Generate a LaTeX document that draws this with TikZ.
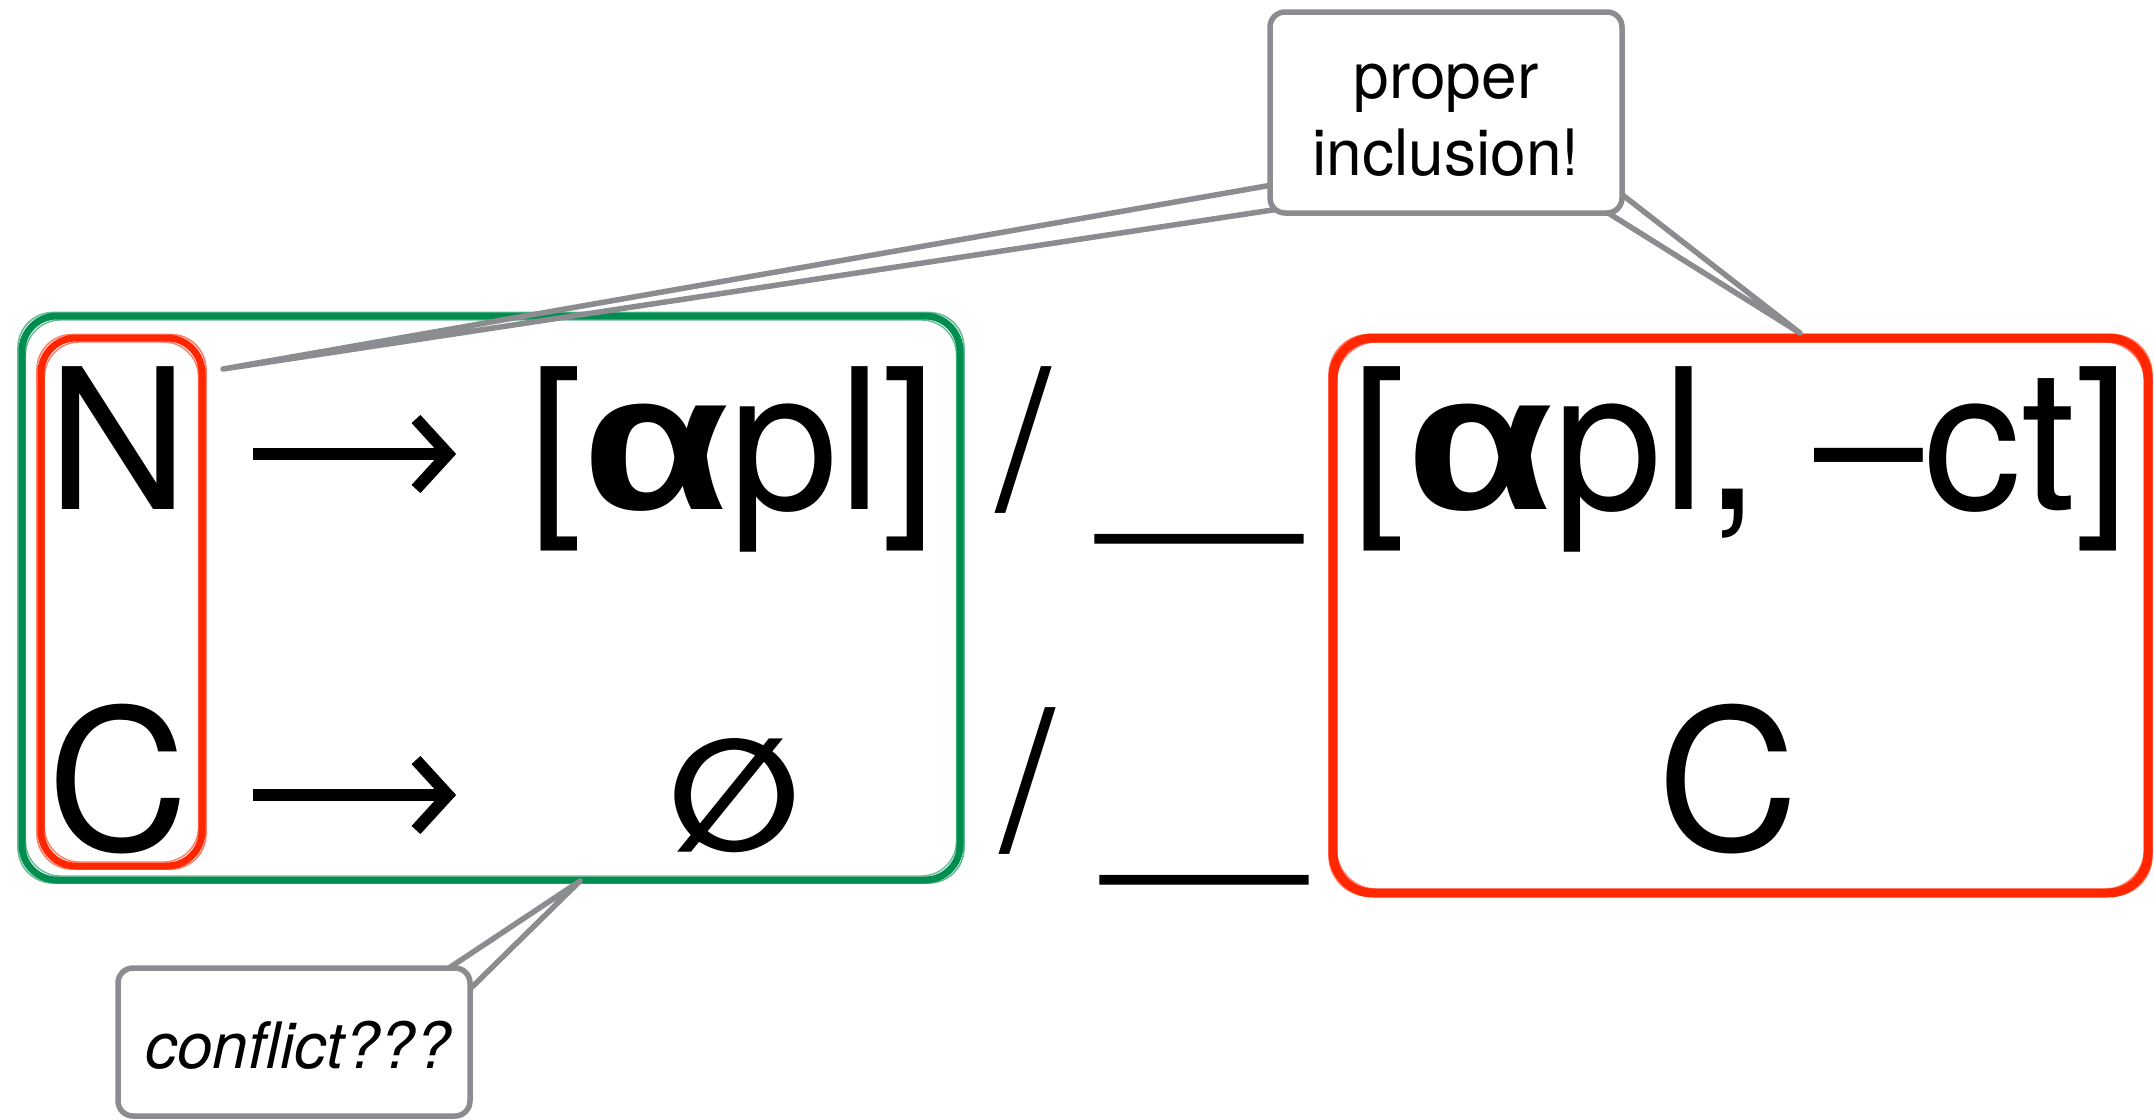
\documentclass[tikz,border=0pt]{standalone}
\usepackage{fontspec}
\setmainfont{TeX Gyre Heros}
\newfontfamily\alphafont{Liberation Sans}
\newfontfamily\symfont{DejaVu Sans}
\usetikzlibrary{calc}
\definecolor{kgreen}{RGB}{0,142,80}
\definecolor{kred}{RGB}{255,38,0}
\definecolor{kgray}{RGB}{138,140,143}
\newcommand{\sketchrect}[7]{%
  \draw[#1, line width=#7, rounded corners=#6] (#2,#3) rectangle (#4,#5);
  \draw[#1, line width=1.6pt, opacity=0.6, rounded corners=#6] ($(#2,#3)+(-4,-3.5)$) rectangle ($(#4,#5)+(4,3)$);
  \draw[#1, line width=1.4pt, opacity=0.6, rounded corners=#6] ($(#2,#3)+(3.5,4)$) rectangle ($(#4,#5)+(-3.5,-4)$);
}
\newcommand{\boldalpha}{\scalebox{1.22}[1]{\alphafont\bfseries α}}
\tikzset{
  big/.style={inner sep=0pt, outer sep=0pt, font=\fontsize{196}{200}\selectfont},
  glyph/.style={inner sep=0pt, outer sep=0pt},
  arrowline/.style={line width=12pt, black},
  tail/.style={draw=kgray, line width=5.5pt, line join=round},
  calloutbox/.style={draw=kgray, fill=white, line width=5.5pt, rounded corners=15pt, inner sep=0pt},
  pitext/.style={inner sep=0pt, font=\fontsize{64}{77}\selectfont},
  cftext/.style={inner sep=0pt, font=\fontsize{64}{77}\selectfont\itshape},
}
\begin{document}
\begin{tikzpicture}[x=1pt, y=-1pt]
\useasboundingbox (0,0) rectangle (2154,1119);
% sketched frames
\sketchrect{kgreen}{22}{316}{960}{880}{35pt}{7pt}
\sketchrect{kred}{41}{338}{202}{866}{35pt}{7pt}
\sketchrect{kred}{1333}{338}{2148}{893}{40pt}{9pt}
% row 1
\node[big, anchor=base] (N) at (118.5,509) {N};
\coordinate (A1s) at (253,454);
\coordinate (A1t) at (448,454);
\draw[arrowline] (A1s) -- (A1t);
\draw[arrowline, line join=miter] ($(A1t)+(-32,-35)$) -- (A1t) -- ($(A1t)+(-32,35)$);
\node[big, anchor=base] (L1) at (732.5,509) {[\boldalpha pl]};
\node[big, anchor=base] (S1) at (1024,509) {/};
\node[big, anchor=base] (U1) at (1199,509) {\scalebox{1.78}[1]{\_}};
\node[big, anchor=base] (R1) at (1741,509) {[\boldalpha pl, –ct]};
% row 2
\node[big, anchor=base] (C1) at (118,850) {C};
\coordinate (A2s) at (253,795);
\coordinate (A2t) at (448,795);
\draw[arrowline] (A2s) -- (A2t);
\draw[arrowline, line join=miter] ($(A2t)+(-32,-35)$) -- (A2t) -- ($(A2t)+(-32,35)$);
\node[glyph] (E) at (735,796) {\resizebox{!}{112pt}{\symfont\bfseries ∅}};
\node[big, anchor=base] (S2) at (1028,850) {/};
\node[big, anchor=base] (U2) at (1204,850) {\scalebox{1.78}[1]{\_}};
\node[big, anchor=base] (R2) at (1728,850) {C};
% callout: proper inclusion
\coordinate (tipN) at (223,369);
\coordinate (tipR) at (1800,333);
\coordinate (piA) at (1272,185);
\coordinate (piB) at (1279,209);
\coordinate (piC) at (1620,193);
\coordinate (piD) at (1605,211);
\draw[tail] (piA) -- (tipN) -- (piB);
\draw[tail] (piC) -- (tipR) -- (piD);
\node[calloutbox, minimum width=352pt, minimum height=201pt] (pi) at (1446,112.5) {};
\node[pitext, anchor=base] (pit1) at (1446,98) {proper};
\node[pitext, anchor=base] (pit2) at (1446,175) {inclusion!};
% callout: conflict
\coordinate (tipG) at (580,881);
\coordinate (cfA) at (449,968);
\coordinate (cfB) at (469,990);
\draw[tail] (cfA) -- (tipG) -- (cfB);
\node[calloutbox, minimum width=352pt, minimum height=148pt] (cf) at (294,1042) {};
\node[cftext, anchor=base] (cft) at (298,1068) {conflict???};
\end{tikzpicture}
\end{document}
